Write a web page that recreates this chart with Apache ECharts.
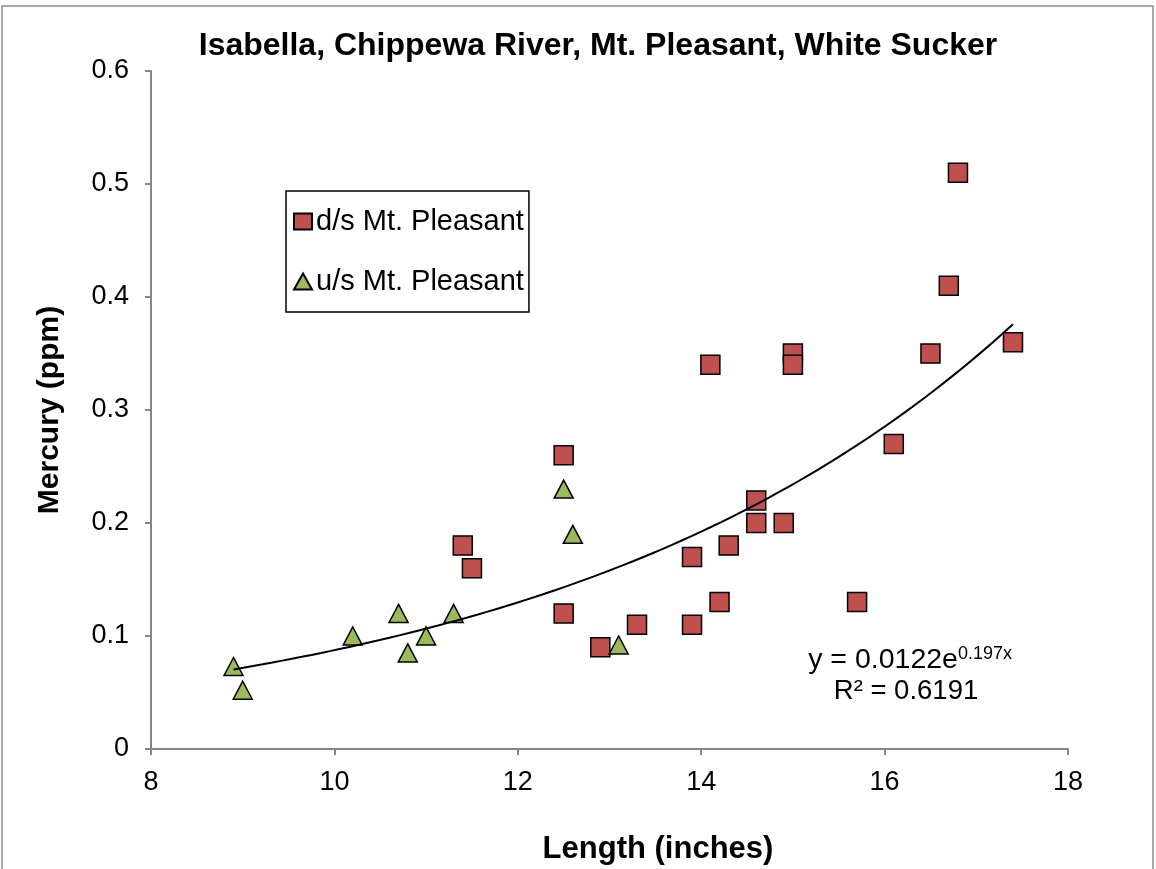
<!DOCTYPE html>
<html>
<head>
<meta charset="utf-8">
<script src="https://cdn.jsdelivr.net/npm/echarts@6/dist/echarts.min.js"></script>
<style>html,body{margin:0;padding:0;background:#fff}#c{width:1156px;height:869px}</style>
</head>
<body>
<div id="c"></div>
<script>
// Data
const dsLength = [11.4, 11.5, 12.5, 12.5, 12.9, 13.3, 13.9, 13.9, 14.1, 14.2, 14.3, 14.6, 14.6, 14.9, 15.0, 15.0, 15.7, 16.1, 16.5, 16.7, 16.8, 17.4];
const dsMercury = [0.18, 0.16, 0.26, 0.12, 0.09, 0.11, 0.17, 0.11, 0.34, 0.13, 0.18, 0.22, 0.20, 0.20, 0.35, 0.34, 0.13, 0.27, 0.35, 0.41, 0.51, 0.36];
const usLength = [8.9, 9.0, 10.2, 10.7, 10.8, 11.0, 11.3, 12.5, 12.6, 13.1];
const usMercury = [0.073, 0.052, 0.10, 0.12, 0.085, 0.10, 0.12, 0.23, 0.19, 0.092];
// Exponential trendline printed on the chart: y = a * e^(b x), over the data range
const trendA = 0.0122;
const trendB = 0.197;
const trendRange = [8.9, 17.4];
const seriesNames = ['d/s Mt. Pleasant', 'u/s Mt. Pleasant'];

const trend = [];
const steps = 80;
for (let i = 0; i <= steps; i++) {
  const x = trendRange[0] + (trendRange[1] - trendRange[0]) * i / steps;
  trend.push([x, trendA * Math.exp(trendB * x)]);
}

const chart = echarts.init(document.getElementById('c'), null, {renderer: 'canvas'});
const axisGray = '#868686';
const font = 'Liberation Sans, Arial, sans-serif';
chart.setOption({
  animation: false,
  backgroundColor: '#fff',
  textStyle: {fontFamily: font},
  grid: {left: 151, right: 88, top: 71, bottom: 120, containLabel: false},
  xAxis: {
    type: 'value', min: 8, max: 18, interval: 2,
    axisLine: {show: true, lineStyle: {color: axisGray, width: 2}},
    axisTick: {show: true, length: 6, lineStyle: {color: axisGray, width: 2}},
    axisLabel: {fontSize: 27, color: '#000', margin: 20, fontFamily: font},
    splitLine: {show: false}
  },
  yAxis: {
    type: 'value', min: 0, max: 0.6, interval: 0.1,
    name: 'Mercury (ppm)', nameLocation: 'middle', nameGap: 86,
    nameTextStyle: {fontSize: 30, fontWeight: 'bold', color: '#000', fontFamily: font},
    axisLine: {show: true, lineStyle: {color: axisGray, width: 2}},
    axisTick: {show: true, length: 6, lineStyle: {color: axisGray, width: 2}},
    axisLabel: {fontSize: 27, color: '#000', margin: 22, fontFamily: font,
      formatter: v => String(Math.round(v * 10) / 10)},
    splitLine: {show: false}
  },
  legend: {
    orient: 'vertical', left: 286, top: 191,
    data: seriesNames,
    borderColor: '#000', borderWidth: 1.5, borderRadius: 0,
    padding: [16, 5, 16, 7], itemGap: 31, itemWidth: 18, itemHeight: 16,
    textStyle: {fontSize: 29, color: '#000', fontFamily: font, padding: [0, 0, 0, -1]}
  },
  graphic: [
    {type: 'rect', shape: {x: 2, y: 6, width: 1151, height: 870}, style: {fill: 'none', stroke: '#8c8c8c', lineWidth: 1.5}, silent: true},
    {type: 'text', x: 598, y: 46, style: {text: 'Isabella, Chippewa River, Mt. Pleasant, White Sucker', fontSize: 32, fontWeight: 'bold', fontFamily: font, fill: '#000', align: 'center', verticalAlign: 'middle'}},
    {type: 'text', x: 658, y: 849, style: {text: 'Length (inches)', fontSize: 31, fontWeight: 'bold', fontFamily: font, fill: '#000', align: 'center', verticalAlign: 'middle'}},
    {type: 'text', x: 1012, y: 660, style: {
      text: '{b|y = 0.0122e}{s|0.197x}', align: 'right', verticalAlign: 'middle', fontFamily: font,
      rich: {b: {fontSize: 28.5, fill: '#000', fontFamily: font}, s: {fontSize: 18, fill: '#000', fontFamily: font, verticalAlign: 'top', padding: [0,0,12,0]}}}},
    {type: 'text', x: 906, y: 691, style: {text: 'R² = 0.6191', fontSize: 27.5, fontFamily: font, fill: '#000', align: 'center', verticalAlign: 'middle'}}
  ],
  series: [
    {
      name: seriesNames[0], type: 'scatter', symbol: 'rect', symbolSize: 19,
      data: dsLength.map((x, i) => [x, dsMercury[i]]),
      itemStyle: {color: '#C0504D', borderColor: '#000', borderWidth: 1.5, opacity: 1},
      z: 3
    },
    {
      name: seriesNames[1], type: 'scatter', symbol: 'triangle', symbolSize: [19, 18],
      data: usLength.map((x, i) => [x, usMercury[i]]),
      itemStyle: {color: '#9BBB59', borderColor: '#000', borderWidth: 1.5, opacity: 1},
      z: 3
    },
    {
      name: 'trend', type: 'line', data: trend, showSymbol: false, symbol: 'none',
      lineStyle: {color: '#000', width: 2}, z: 4, silent: true
    }
  ]
});
</script>
</body>
</html>
